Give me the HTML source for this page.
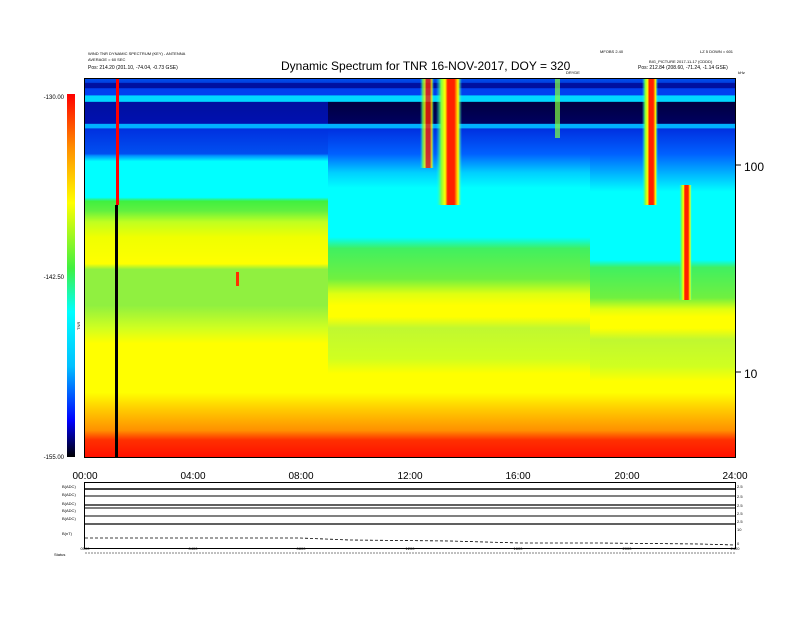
<!DOCTYPE html>
<html><head><meta charset="utf-8"><style>
body{margin:0;background:#fff;font-family:"Liberation Sans",sans-serif}
svg text{font-family:"Liberation Sans",sans-serif}
</style></head><body>
<svg width="792" height="612" viewBox="0 0 792 612" xmlns="http://www.w3.org/2000/svg">
<defs>
<linearGradient id="gL" x1="0" y1="78" x2="0" y2="457" gradientUnits="userSpaceOnUse">
<stop offset="0" stop-color="#0050f0"/><stop offset="0.012" stop-color="#0040e0"/>
<stop offset="0.014" stop-color="#0010a0"/><stop offset="0.026" stop-color="#0010a0"/>
<stop offset="0.028" stop-color="#0040f0"/><stop offset="0.045" stop-color="#0040f0"/>
<stop offset="0.047" stop-color="#00d8ff"/><stop offset="0.062" stop-color="#00d8ff"/>
<stop offset="0.064" stop-color="#0010a0"/><stop offset="0.12" stop-color="#0010b0"/>
<stop offset="0.122" stop-color="#00b0ff"/><stop offset="0.132" stop-color="#00b0ff"/>
<stop offset="0.134" stop-color="#0030e0"/><stop offset="0.2" stop-color="#0050f0"/>
<stop offset="0.205" stop-color="#0090ff"/><stop offset="0.22" stop-color="#00ffff"/>
<stop offset="0.315" stop-color="#00ffff"/><stop offset="0.325" stop-color="#40f040"/>
<stop offset="0.35" stop-color="#60f040"/><stop offset="0.38" stop-color="#c0ff20"/>
<stop offset="0.42" stop-color="#f0ff00"/><stop offset="0.49" stop-color="#ffff00"/>
<stop offset="0.505" stop-color="#90f040"/><stop offset="0.6" stop-color="#90f040"/>
<stop offset="0.66" stop-color="#d0ff20"/><stop offset="0.7" stop-color="#ffff00"/>
<stop offset="0.83" stop-color="#ffff00"/><stop offset="0.87" stop-color="#ffd000"/>
<stop offset="0.93" stop-color="#ff9000"/><stop offset="0.955" stop-color="#ff3000"/>
<stop offset="1" stop-color="#ff1000"/>
</linearGradient>
<linearGradient id="gR" x1="0" y1="78" x2="0" y2="457" gradientUnits="userSpaceOnUse">
<stop offset="0" stop-color="#0050f0"/><stop offset="0.012" stop-color="#0040e0"/>
<stop offset="0.014" stop-color="#0010a0"/><stop offset="0.026" stop-color="#0010a0"/>
<stop offset="0.028" stop-color="#0040f0"/><stop offset="0.045" stop-color="#0040f0"/>
<stop offset="0.047" stop-color="#00d8ff"/><stop offset="0.062" stop-color="#00d8ff"/>
<stop offset="0.064" stop-color="#000040"/><stop offset="0.12" stop-color="#000060"/>
<stop offset="0.122" stop-color="#00b0ff"/><stop offset="0.132" stop-color="#00b0ff"/>
<stop offset="0.134" stop-color="#0030e0"/><stop offset="0.2" stop-color="#0060ff"/>
<stop offset="0.25" stop-color="#00d0ff"/><stop offset="0.29" stop-color="#00ffff"/>
<stop offset="0.42" stop-color="#00ffff"/><stop offset="0.45" stop-color="#40f060"/>
<stop offset="0.53" stop-color="#70f040"/><stop offset="0.57" stop-color="#e0ff10"/>
<stop offset="0.6" stop-color="#ffff00"/><stop offset="0.63" stop-color="#ffff00"/>
<stop offset="0.66" stop-color="#c0f830"/><stop offset="0.74" stop-color="#d0ff20"/>
<stop offset="0.78" stop-color="#ffff00"/><stop offset="0.83" stop-color="#ffff00"/>
<stop offset="0.87" stop-color="#ffd000"/><stop offset="0.93" stop-color="#ff9000"/>
<stop offset="0.955" stop-color="#ff3000"/><stop offset="1" stop-color="#ff1000"/>
</linearGradient>
<linearGradient id="gR2" x1="0" y1="78" x2="0" y2="457" gradientUnits="userSpaceOnUse">
<stop offset="0" stop-color="#0050f0"/><stop offset="0.012" stop-color="#0040e0"/>
<stop offset="0.014" stop-color="#0010a0"/><stop offset="0.026" stop-color="#0010a0"/>
<stop offset="0.028" stop-color="#0040f0"/><stop offset="0.045" stop-color="#0040f0"/>
<stop offset="0.047" stop-color="#00d8ff"/><stop offset="0.062" stop-color="#00d8ff"/>
<stop offset="0.064" stop-color="#000040"/><stop offset="0.12" stop-color="#000060"/>
<stop offset="0.122" stop-color="#00b0ff"/><stop offset="0.132" stop-color="#00b0ff"/>
<stop offset="0.134" stop-color="#0030e0"/><stop offset="0.2" stop-color="#0060ff"/>
<stop offset="0.26" stop-color="#00c0ff"/><stop offset="0.3" stop-color="#00ffff"/>
<stop offset="0.48" stop-color="#00ffff"/><stop offset="0.5" stop-color="#40f060"/>
<stop offset="0.58" stop-color="#70f040"/><stop offset="0.61" stop-color="#e0ff10"/>
<stop offset="0.63" stop-color="#ffff00"/><stop offset="0.66" stop-color="#ffff00"/>
<stop offset="0.69" stop-color="#c0f830"/><stop offset="0.76" stop-color="#d0ff20"/>
<stop offset="0.8" stop-color="#ffff00"/><stop offset="0.83" stop-color="#ffff00"/>
<stop offset="0.87" stop-color="#ffd000"/><stop offset="0.93" stop-color="#ff9000"/>
<stop offset="0.955" stop-color="#ff3000"/><stop offset="1" stop-color="#ff1000"/>
</linearGradient>
<linearGradient id="cb" x1="0" y1="94" x2="0" y2="457" gradientUnits="userSpaceOnUse">
<stop offset="0" stop-color="#ff0000"/><stop offset="0.15" stop-color="#ff9000"/>
<stop offset="0.3" stop-color="#ffff00"/><stop offset="0.48" stop-color="#40f040"/>
<stop offset="0.6" stop-color="#00ffff"/><stop offset="0.75" stop-color="#00c0ff"/>
<stop offset="0.9" stop-color="#0000ff"/><stop offset="1" stop-color="#000000"/>
</linearGradient>
<linearGradient id="burst" x1="0" x2="1" y1="0" y2="0">
<stop offset="0" stop-color="#00ffff" stop-opacity="0"/><stop offset="0.2" stop-color="#80ff40"/>
<stop offset="0.35" stop-color="#ffff00"/><stop offset="0.45" stop-color="#ff2000"/>
<stop offset="0.7" stop-color="#ff2000"/><stop offset="0.85" stop-color="#ffff00"/>
<stop offset="1" stop-color="#00ffff" stop-opacity="0"/>
</linearGradient>
</defs>
<rect x="85" y="78" width="243" height="379" fill="url(#gL)"/>
<rect x="328" y="78" width="262" height="379" fill="url(#gR)"/>
<rect x="590" y="78" width="145" height="379" fill="url(#gR2)"/>
<!-- bursts -->
<rect x="420" y="78" width="14" height="90" fill="url(#burst)" opacity="0.8"/>
<rect x="436" y="78" width="26" height="127" fill="url(#burst)"/>
<rect x="642" y="78" width="16" height="127" fill="url(#burst)"/>
<rect x="679" y="185" width="13" height="115" fill="url(#burst)"/>
<rect x="555" y="78" width="5" height="60" fill="#80ff40" opacity="0.7"/>
<rect x="236" y="272" width="3" height="14" fill="#ff3000"/>
<!-- vertical line -->
<rect x="116" y="78" width="3" height="127" fill="#ff0000"/>
<rect x="115" y="205" width="3" height="252" fill="#000"/>
<rect x="84.5" y="78.5" width="651" height="379" fill="none" stroke="#000"/>
<!-- colorbar -->
<rect x="67" y="94" width="8" height="363" fill="url(#cb)"/>
<text x="64" y="99" font-size="6" text-anchor="end">-130.00</text>
<text x="64" y="279" font-size="6" text-anchor="end">-142.50</text>
<text x="64" y="459" font-size="6" text-anchor="end">-155.00</text>
<text x="80" y="330" font-size="4" transform="rotate(-90 80 330)">TNR</text>
<!-- right axis -->
<text x="744" y="171" font-size="12">100</text>
<text x="744" y="378" font-size="12">10</text>
<g stroke="#000">
<line x1="735" y1="165" x2="741" y2="165"/><line x1="735" y1="372" x2="741" y2="372"/>
</g>
<!-- titles -->
<text x="281" y="70" font-size="12">Dynamic Spectrum for TNR 16-NOV-2017, DOY = 320</text>
<text x="88" y="55" font-size="4">WIND TNR DYNAMIC SPECTRUM (KEY) - ANTENNA</text>
<text x="88" y="61" font-size="4">AVERAGE = 60 SEC</text>
<text x="88" y="69" font-size="5">Pos: 214.20 (201.10, -74.04, -0.73 GSE)</text>
<text x="600" y="53" font-size="4">MFOBS 2.40</text>
<text x="700" y="53" font-size="4">LZ 5 DOWN = 601</text>
<text x="649" y="63" font-size="4">BIG_PICTURE 2017-11-17 (CDDD)</text>
<text x="638" y="69" font-size="5">Pos: 212.84 (208.60, -71.24, -1.14 GSE)</text>
<text x="566" y="74" font-size="4">DRYDE</text>
<text x="738" y="74" font-size="4">kHz</text>
<!-- time axis -->
<g font-size="10" text-anchor="middle">
<text x="85" y="479">00:00</text><text x="193" y="479">04:00</text><text x="301" y="479">08:00</text>
<text x="410" y="479">12:00</text><text x="518" y="479">16:00</text><text x="627" y="479">20:00</text>
<text x="735" y="479">24:00</text>
</g>
<!-- lower panel -->
<g stroke="#000" fill="none">
<rect x="84.5" y="482.5" width="651" height="66"/>
<line x1="85" y1="489" x2="735" y2="489" stroke-width="1.5"/>
<line x1="85" y1="496" x2="735" y2="496"/>
<line x1="85" y1="505" x2="735" y2="505" stroke-width="1.2"/>
<line x1="85" y1="508" x2="735" y2="508"/>
<line x1="85" y1="516" x2="735" y2="516"/>
<line x1="85" y1="524" x2="735" y2="524" stroke-width="1.2"/>
<path d="M85 538 L300 538 L350 540 L450 541 L520 543 L600 543 L700 544 L735 545" stroke-dasharray="3 2" stroke-width="0.8"/>
<line x1="85" y1="553" x2="735" y2="553" stroke-dasharray="2 1" stroke-width="0.5"/>
</g>
<g font-size="4">
<text x="62" y="488">B(ADC)</text><text x="62" y="496">B(ADC)</text><text x="62" y="505">B(ADC)</text>
<text x="62" y="512">B(ADC)</text><text x="62" y="520">B(ADC)</text><text x="62" y="535">B(nT)</text>
<text x="54" y="556">Status</text>
<text x="737" y="488">2.5</text><text x="737" y="498">2.5</text><text x="737" y="507">2.5</text>
<text x="737" y="515">2.5</text><text x="737" y="523">2.5</text><text x="737" y="531">10</text><text x="737" y="545">0</text>
</g>
<g font-size="4" text-anchor="middle">
<text x="85" y="550">0000</text><text x="193" y="550">0400</text><text x="301" y="550">0800</text>
<text x="410" y="550">1200</text><text x="518" y="550">1600</text><text x="627" y="550">2000</text><text x="735" y="550">2400</text>
</g>
</svg>
</body></html>
